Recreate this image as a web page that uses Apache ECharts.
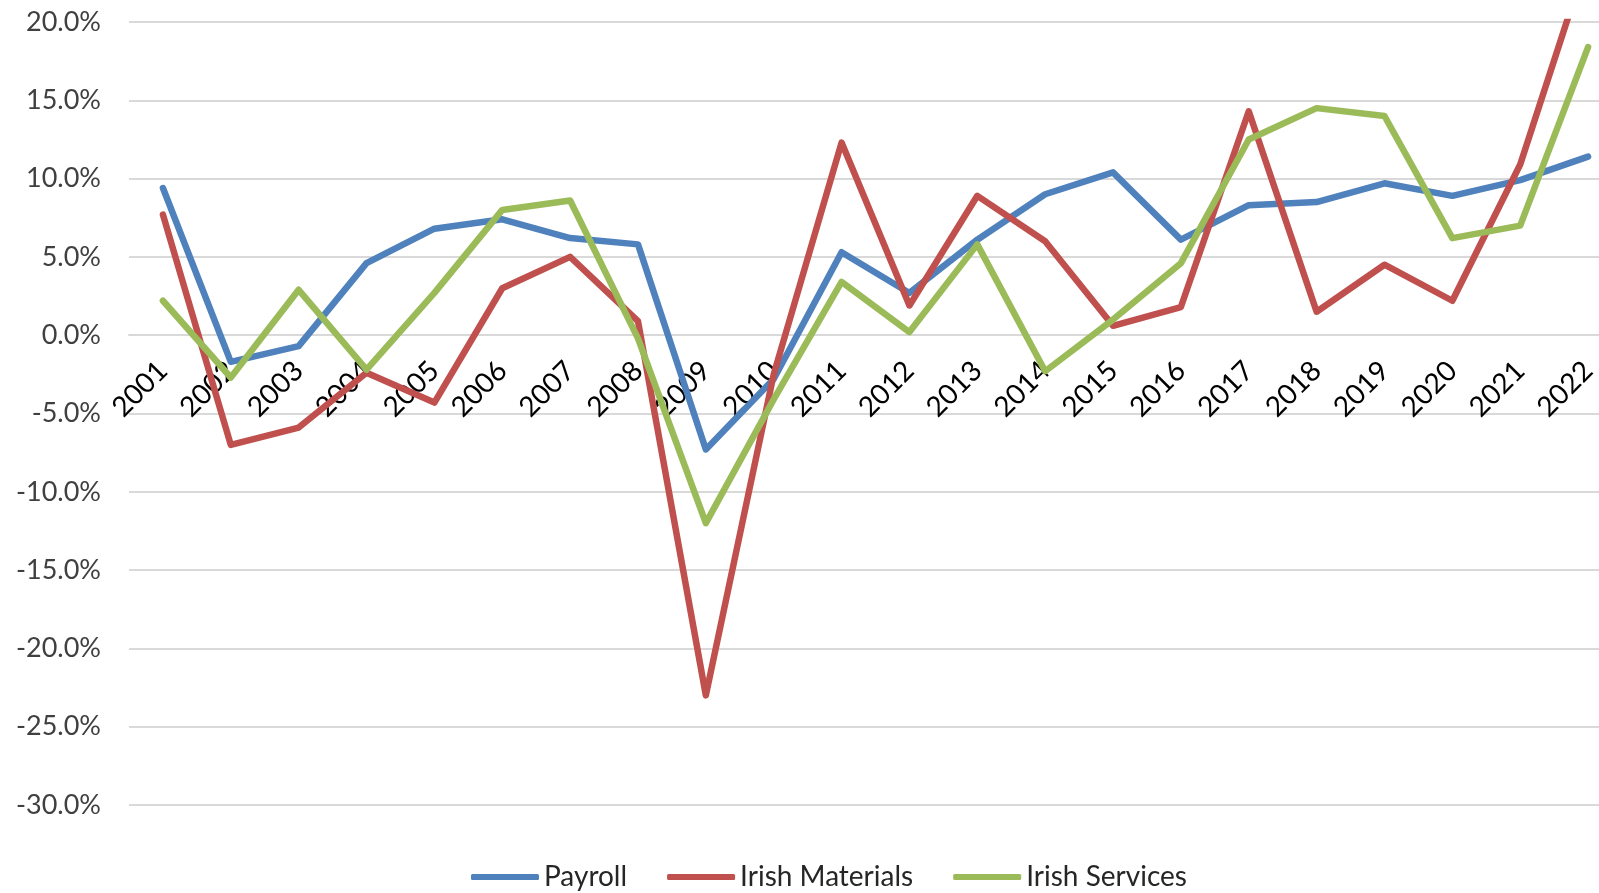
<!DOCTYPE html>
<html>
<head>
<meta charset="utf-8">
<title>Payroll and Irish spend growth</title>
<script src="https://cdn.jsdelivr.net/npm/echarts@6/dist/echarts.min.js"></script>
<style>
  html, body { margin: 0; padding: 0; background: #fff; }
  #chart { width: 1599px; height: 893px; }
</style>
</head>
<body>
<div id="chart"></div>
<script>
// year on year change, in percent
const years = ['2001', '2002', '2003', '2004', '2005', '2006', '2007', '2008', '2009', '2010', '2011',
  '2012', '2013', '2014', '2015', '2016', '2017', '2018', '2019', '2020', '2021', '2022']
const payroll = [9.4, -1.7, -0.7, 4.6, 6.8, 7.4, 6.2, 5.8, -7.3, -2.8, 5.3,
  2.7, 6.1, 9.0, 10.4, 6.1, 8.3, 8.5, 9.7, 8.9, 9.9, 11.4]
const irishMaterials = [7.7, -7.0, -5.9, -2.4, -4.3, 3.0, 5.0, 0.9, -23.0, -2.5, 12.3,
  1.9, 8.9, 6.0, 0.6, 1.8, 14.3, 1.5, 4.5, 2.2, 10.9, 24.2]
const irishServices = [2.2, -2.7, 2.9, -2.2, 2.7, 8.0, 8.6, -0.2, -12.0, -4.1, 3.4,
  0.2, 5.8, -2.3, 1.0, 4.6, 12.5, 14.5, 14.0, 6.2, 7.0, 18.4]

const yMin = -30
const yMax = 20
const gridHeight = 783
const font = 'Lato, "Open Sans", sans-serif'

function line(name, data, color) {
  return {
    name: name,
    type: 'line',
    data: data,
    symbol: 'none',
    clip: true,
    animation: false,
    lineStyle: { color: color, width: 6.5, cap: 'round', join: 'round' },
    itemStyle: { color: color }
  }
}

const chart = echarts.init(document.getElementById('chart'))
chart.setOption({
  backgroundColor: '#fff',
  grid: {
    left: 129,
    top: 22,
    width: 1493,
    height: gridHeight,
    containLabel: false,
    outerBoundsMode: 'none'
  },
  legend: {
    left: 466,
    top: 858,
    icon: 'roundRect',
    itemWidth: 68,
    itemHeight: 6,
    itemGap: 40,
    textStyle: { fontFamily: font, fontSize: 28, color: '#262626' },
    data: ['Payroll', 'Irish Materials', 'Irish Services']
  },
  xAxis: {
    type: 'category',
    data: years,
    boundaryGap: true,
    // category axis sits on the 0% line
    position: 'bottom',
    offset: -gridHeight * (0 - yMin) / (yMax - yMin),
    axisLine: { show: true, onZero: false, lineStyle: { color: '#d9d9d9', width: 2 } },
    axisTick: { show: false },
    axisLabel: {
      rotate: 45,
      interval: 0,
      margin: 31,
      align: 'right',
      verticalAlign: 'middle',
      fontFamily: font,
      fontSize: 28,
      color: '#000'
    }
  },
  yAxis: {
    type: 'value',
    min: yMin,
    max: yMax,
    interval: 5,
    axisLine: { show: false },
    axisTick: { show: false },
    splitLine: { lineStyle: { color: '#d9d9d9', width: 2 } },
    axisLabel: {
      margin: 28,
      fontFamily: font,
      fontSize: 27,
      color: '#404040',
      formatter: function (v) { return v.toFixed(1) + '%' }
    }
  },
  series: [
    line('Payroll', payroll, '#4f81bd'),
    line('Irish Materials', irishMaterials, '#c0504d'),
    line('Irish Services', irishServices, '#9bbb59')
  ]
})
</script>
</body>
</html>
